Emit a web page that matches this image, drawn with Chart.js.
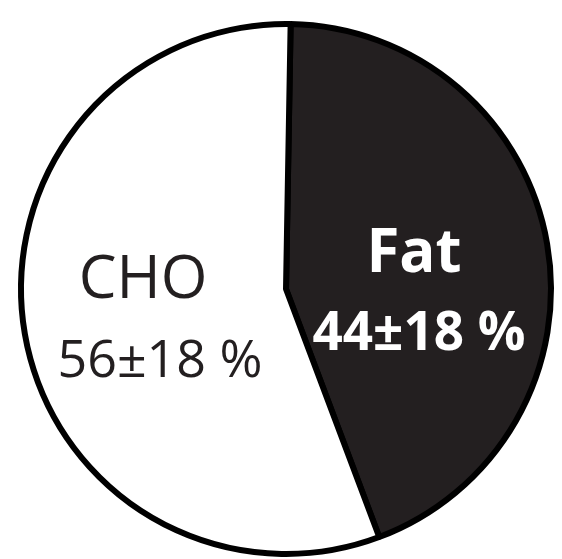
<!DOCTYPE html>
<html>
<head>
<meta charset="utf-8">
<script src="https://cdn.jsdelivr.net/npm/chart.js@4"></script>
<style>
  html, body { margin: 0; padding: 0; background: #fff; }
  #wrap { width: 562px; height: 559px; position: relative; }
</style>
</head>
<body>
<div id="wrap"><canvas id="pie"></canvas></div>
<script>
// macronutrient share (% of energy), Fat first = clockwise from 12 o'clock
const categories = ['Fat', 'CHO'];
const shares = [44, 56];
const spreads = [18, 18];
const sliceColors = ['#231f20', '#ffffff'];
const labelColors = ['#ffffff', '#231f20'];

// where each label sits (px) and its weight
const labelSpots = [
  { x: 414, y1: 272, y2: 350, weight: 'bold', size2: 53 },
  { x: 143, y1: 298, y2: 377, weight: 'normal', size2: 52 },
];

const pieLabels = {
  id: 'pieLabels',
  afterDatasetsDraw(chart) {
    const c = chart.ctx;
    c.save();
    c.textAlign = 'center';
    c.textBaseline = 'alphabetic';
    categories.forEach((name, i) => {
      const s = labelSpots[i];
      c.fillStyle = labelColors[i];
      c.font = s.weight + ' 60px "Open Sans", sans-serif';
      c.fillText(name, s.x, s.y1);
      c.font = s.weight + ' ' + s.size2 + 'px "Open Sans", sans-serif';
      c.fillText(shares[i] + '\u00b1' + spreads[i] + ' %', i === 1 ? 160 : 419, s.y2);
    });
    c.restore();
  }
};

new Chart(document.getElementById('pie').getContext('2d'), {
  type: 'pie',
  data: {
    labels: categories,
    datasets: [{
      data: shares,
      backgroundColor: sliceColors,
      borderColor: '#000000',
      borderWidth: 6,
      radius: 265,
    }],
  },
  options: {
    responsive: true, maintainAspectRatio: false,
    animation: false,
    rotation: 1,
    layout: { padding: { left: 10, top: 19, right: 0, bottom: 0 } },
    plugins: { legend: { display: false }, tooltip: { enabled: false } },
  },
  plugins: [pieLabels],
});
</script>
</body>
</html>
